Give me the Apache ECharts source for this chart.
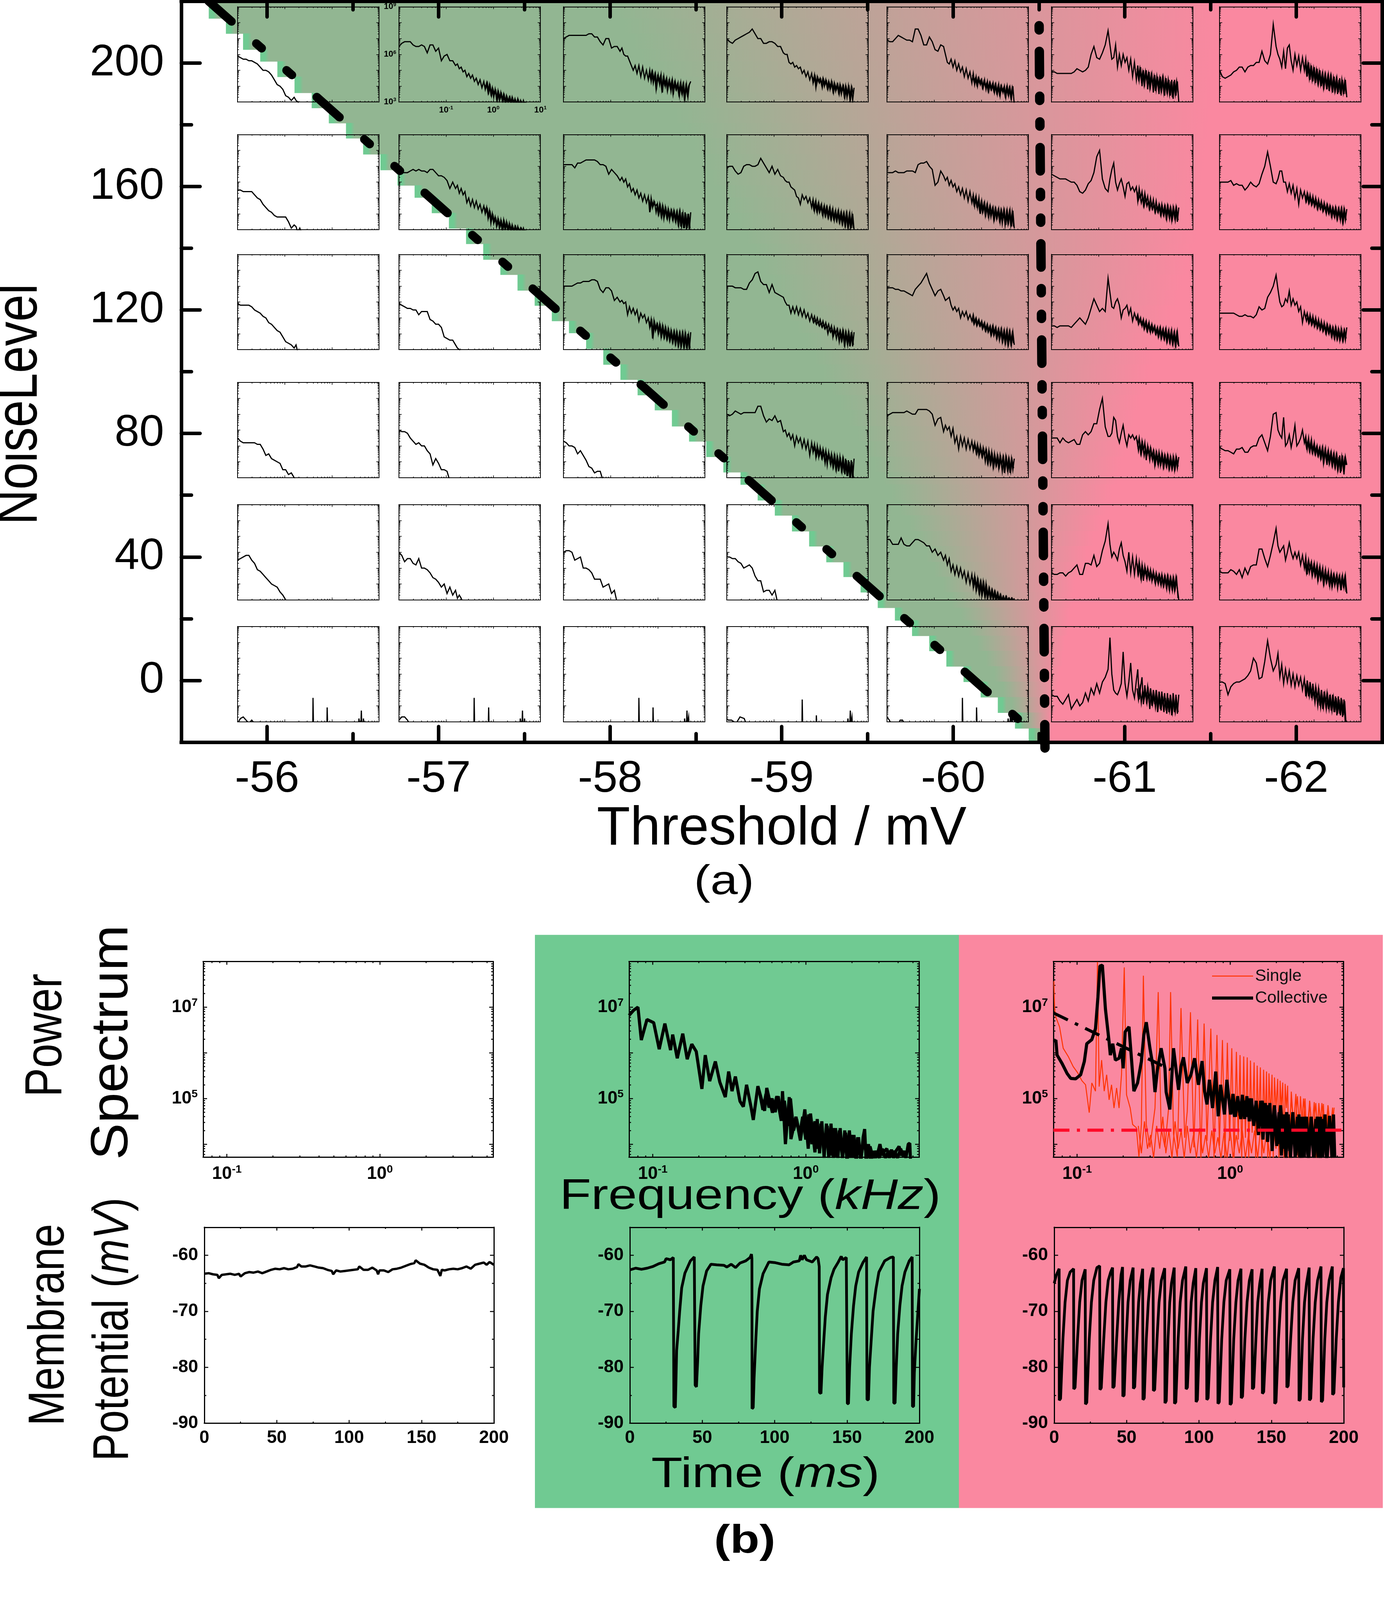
<!DOCTYPE html>
<html>
<head>
<meta charset="utf-8">
<style>html,body{margin:0;padding:0;background:#fff;overflow:hidden}#main{width:3542px;height:4924px}</style>
<script src="https://cdn.jsdelivr.net/npm/echarts@6/dist/echarts.min.js"></script>
</head>
<body>
<div id="main"></div>
<script>
// panel (a) background, one strip per staircase row
var stairBottom = [214.5,209.6,204.4,200.6,195.6,190.4,185.5,180.6,175.7,170.5,165.4,160.4,156.5,151.5,146.5,141.5,136.4,131.5,126.4,121.5,116.5,112.6,107.5,102.4,97.5,92.5,87.6,82.4,77.5,72.5,67.5,63.5,58.4,53.5,48.4,43.5,38.4,33.6,28.6,23.6,19.5,14.5,9.6,4.6,-0.4,-5.4,-10.4,-15.5,-20];
var stairStart = [-55.66,-55.76,-55.86,-55.96,-56.06,-56.16,-56.26,-56.36,-56.46,-56.56,-56.66,-56.76,-56.86,-56.96,-57.06,-57.16,-57.26,-57.36,-57.46,-57.56,-57.66,-57.76,-57.86,-57.96,-58.06,-58.16,-58.26,-58.36,-58.46,-58.56,-58.66,-58.76,-58.86,-58.96,-59.06,-59.16,-59.26,-59.36,-59.46,-59.56,-59.66,-59.76,-59.86,-59.96,-60.06,-60.16,-60.26,-60.36,-60.44];
var mixStart = [-58.03,-58.08,-58.13,-58.18,-58.23,-58.28,-58.33,-58.38,-58.43,-58.49,-58.54,-58.59,-58.64,-58.69,-58.74,-58.79,-58.84,-58.89,-58.94,-58.99,-59.04,-59.09,-59.14,-59.19,-59.24,-59.29,-59.34,-59.39,-59.44,-59.49,-59.54,-59.59,-59.64,-59.69,-59.74,-59.79,-59.84,-59.89,-59.94,-59.99,-60.04,-60.09,-60.14,-60.19,-60.24,-60.29,-60.34,-60.40,-60.46];
var pinkEnd = [-61.57,-61.56,-61.55,-61.54,-61.53,-61.52,-61.51,-61.50,-61.49,-61.48,-61.47,-61.46,-61.45,-61.44,-61.43,-61.42,-61.40,-61.37,-61.34,-61.31,-61.27,-61.24,-61.21,-61.17,-61.14,-61.12,-61.09,-61.06,-61.04,-61.01,-60.98,-60.96,-60.93,-60.89,-60.86,-60.82,-60.78,-60.75,-60.71,-60.70,-60.68,-60.67,-60.65,-60.64,-60.62,-60.61,-60.60,-60.58,-60.57];

// boundary lines of panel (a)
var diagX = [-55.66,-60.53], diagY = [220,-20];
var vertX = [-60.535,-60.5], vertY = [-21.9,218];

// ticks of panel (a)
var thresholdTicks = [-56,-57,-58,-59,-60,-61,-62];
var thresholdMinor = [-55.5,-56.5,-57.5,-58.5,-59.5,-60.5,-61.5,-62.5];
var noiseTicks = [0,40,80,120,160,200];
var noiseMinor = [-20,20,60,100,140,180,220];

// inset spectra: log10 frequency shared by the insets, log10 power x 10 per inset (row, column)
var insetF = [-2,-1.94,-1.88,-1.82,-1.76,-1.7,-1.64,-1.58,-1.52,-1.46,-1.4,-1.34,-1.28,-1.22,-1.16,-1.1,-1.04,-0.98,-0.92,-0.86,-0.8,-0.76,-0.72,-0.68,-0.64,-0.6,-0.56,-0.52,-0.48,-0.44,-0.4,-0.36,-0.32,-0.28,-0.24,-0.2,-0.17,-0.14,-0.11,-0.08,-0.05,-0.02,0.01,0.04,0.07,0.1,0.13,0.16,0.19,0.22,0.25,0.28,0.31,0.34,0.37,0.4,0.43,0.46,0.49,0.52,0.55,0.58,0.61,0.64,0.67,0.7];
var r0c0 = [59,58,57,57,56,56,55,54,52,50,50,49,47,44,41,40,38,34,33,31,33,31,30,28];
var r0c1 = [65,67,68,68,68,66,65,65,66,65,61,66,66,62,64,56,59,60,56,56,53,54,51,52,49,50,46,48,45,47,43,45,41,44,39,43,38,42,36,41,35,39,33,38,32,37,31,36,31,35,30,34,30,33,29,33,29,32,28,32,28,31,28,31,28,30];
var r0c2 = [70,71,72,72,72,72,72,72,72,73,73,71,71,68,66,70,70,64,65,65,62,64,60,59,59,56,53,50,53,48,53,46,52,45,50,44,50,43,49,44,48,40,47,41,47,36,46,40,45,39,44,37,44,37,43,38,42,34,42,35,41,33,41,33,41,43];
var r0c3 = [70,68,67,69,70,71,72,73,74,76,73,70,70,67,67,68,68,67,65,65,61,60,60,55,54,55,52,53,51,52,48,50,46,49,44,48,42,47,39,46,43,45,41,45,40,44,39,43,38,43,37,42,37,41,36,41,35,40,34,40,33,40,32,39,31,39];
var r0c4 = [69,68,68,70,72,71,70,69,69,68,76,76,72,66,66,71,68,63,62,66,65,60,55,54,57,52,56,50,54,49,52,46,51,45,49,42,48,41,46,40,45,41,44,39,44,38,43,37,42,38,42,36,41,35,41,34,40,36,40,33,40,34,39,32,40,28];
var r0c5 = [49,49,48,48,48,48,48,48,49,51,50,49,50,52,60,65,58,57,61,66,75,66,57,58,66,52,60,53,60,55,58,50,57,46,55,44,53,44,52,40,50,42,50,38,49,40,47,36,47,38,46,35,46,38,45,34,45,36,44,34,44,32,44,34,43,30];
var r0c6 = [50,46,45,46,47,49,50,52,52,49,52,53,53,55,55,62,56,54,60,79,65,60,57,52,62,51,64,66,56,50,60,53,59,50,58,50,57,46,55,44,53,43,52,42,51,42,50,40,48,40,47,38,47,39,46,36,46,38,45,36,45,34,44,35,44,33];
var r1c0 = [55,55,54,54,54,54,52,50,49,46,44,42,41,39,38,38,38,38,35,31,33,32,28,31,28];
var r1c1 = [66,66,66,66,67,68,67,68,67,67,66,68,68,66,64,64,63,61,56,60,56,58,53,56,52,54,47,50,45,49,44,48,43,46,41,45,40,44,37,42,34,40,34,38,32,37,31,36,29,36,30,35,29,34,29,33,28,32,28,32,28,31,28,31,28,30];
var r1c2 = [71,71,71,71,69,72,72,73,74,74,74,74,73,71,71,70,65,68,66,64,61,63,60,62,57,59,54,56,52,55,50,53,48,52,47,51,41,50,44,48,45,46,40,46,39,45,37,44,38,43,36,42,37,42,36,41,34,41,32,41,31,41,30,40,30,41];
var r1c3 = [69,70,70,67,65,66,70,71,71,70,70,71,75,72,69,66,70,65,68,64,63,61,60,60,57,56,55,51,50,46,52,49,51,47,50,44,49,42,48,41,47,42,46,39,45,39,44,38,44,37,43,36,42,36,42,35,41,34,40,33,40,32,40,31,40,30];
var r1c4 = [66,66,66,67,66,66,66,67,67,67,66,71,72,72,73,70,68,58,60,67,64,61,63,58,61,57,59,54,57,52,56,50,55,48,54,47,52,45,51,44,50,40,48,42,47,40,46,38,45,40,44,37,43,38,43,35,42,37,42,33,42,35,42,32,42,31];
var r1c5 = [65,64,63,62,62,62,61,60,60,58,54,53,55,59,61,66,76,80,62,56,54,62,68,72,60,55,59,62,57,51,59,60,55,57,54,57,48,56,50,54,46,53,47,51,44,50,44,49,42,48,42,46,40,46,40,45,38,45,39,44,36,44,38,44,35,44];
var r1c6 = [60,60,60,60,61,58,59,58,58,55,57,60,58,57,59,65,70,79,70,60,59,62,67,67,60,60,54,59,53,58,50,56,46,55,50,54,48,53,47,52,46,51,45,50,44,49,44,48,42,47,42,46,41,45,39,44,39,44,37,43,38,43,35,43,36,43];
var r2c0 = [59,58,58,58,58,57,55,54,53,51,50,47,46,44,42,41,38,35,34,33,31,33,28];
var r2c1 = [59,58,57,56,56,55,55,52,54,54,54,49,48,46,46,44,38,37,36,36,33,31,30,28];
var r2c2 = [70,70,70,70,71,72,72,73,73,73,74,74,73,68,66,69,69,67,61,63,60,61,59,60,52,57,53,56,52,55,48,53,50,52,47,50,44,49,37,48,42,46,40,46,38,45,38,44,37,43,36,42,35,41,34,41,33,40,32,40,32,40,31,40,30,41];
var r2c3 = [70,70,70,69,69,69,68,68,72,74,78,79,73,71,71,66,71,66,65,64,63,60,58,58,53,57,53,57,52,56,51,55,50,53,48,52,48,51,47,50,46,49,45,48,44,47,43,46,42,45,38,44,40,43,38,42,36,42,34,41,35,41,32,41,32,41];
var r2c4 = [69,69,69,68,68,67,67,66,65,64,68,70,72,75,78,72,68,64,67,68,64,61,62,63,58,55,57,54,56,50,54,51,54,49,52,48,52,47,50,46,49,45,48,44,47,42,46,42,45,40,45,40,44,38,43,38,43,36,42,35,42,34,41,33,41,33];
var r2c5 = [45,45,44,45,45,45,45,44,46,48,50,48,46,50,56,62,58,54,56,54,75,66,57,56,60,62,58,50,55,56,58,52,56,48,53,49,52,47,50,45,49,44,48,42,47,41,46,42,45,40,44,39,44,38,43,37,43,36,42,35,42,34,41,33,41,32];
var r2c6 = [53,53,53,53,53,53,52,51,51,52,51,51,50,52,57,55,56,63,66,70,77,68,60,57,58,62,60,67,58,62,58,60,54,57,47,54,50,53,47,52,46,51,45,50,44,49,43,48,42,47,41,46,41,45,39,44,38,44,37,43,36,43,36,42,36,44];
var r3c0 = [55,53,52,52,52,52,52,51,51,48,44,45,42,41,40,39,35,35,32,33,30,28];
var r3c1 = [60,59,59,58,55,53,51,52,50,50,47,45,38,42,39,35,35,34,28];
var r3c2 = [53,52,50,50,49,45,47,44,41,37,36,33,34,34,28];
var r3c3 = [70,69,70,72,71,70,71,71,71,71,71,75,75,69,65,67,66,69,65,66,59,60,56,58,54,57,50,56,52,55,49,54,48,53,44,52,46,51,43,50,43,49,43,48,42,47,38,46,40,45,37,44,36,43,34,43,35,42,33,42,31,41,30,41,29,42];
var r3c4 = [69,70,71,71,71,71,71,72,71,70,70,73,73,73,73,72,70,63,67,68,59,63,60,62,56,61,52,56,48,56,50,55,48,54,48,53,47,52,46,51,44,50,44,49,44,48,40,47,39,46,37,45,38,44,36,44,38,43,33,43,36,42,33,42,35,42];
var r3c5 = [55,55,55,52,55,53,52,53,54,51,51,57,59,57,59,64,64,73,80,62,56,56,58,68,66,56,52,58,63,55,50,57,55,57,54,56,50,55,46,53,47,52,41,50,44,49,43,47,38,46,40,46,38,45,37,44,38,44,36,43,36,43,35,43,36,43];
var r3c6 = [49,48,47,47,46,45,48,48,49,46,46,49,50,50,55,57,52,47,56,70,71,60,57,55,68,50,52,57,49,55,63,50,52,55,60,52,56,48,55,47,54,46,52,45,50,44,49,43,49,41,48,38,47,40,46,38,45,37,44,36,44,34,44,32,43,38];
var r4c0 = [55,56,57,58,58,55,53,49,48,46,44,42,40,39,38,35,33,30,28];
var r4c1 = [60,58,54,56,56,53,52,56,50,50,49,47,44,43,41,38,40,34,38,33,36,31,33,31,28];
var r4c2 = [60,61,61,60,55,56,57,50,50,49,47,43,43,43,38,39,40,34,36,28];
var r4c3 = [57,57,56,56,54,53,50,51,52,50,45,42,42,35,36,36,33,36,28];
var r4c4 = [68,68,65,65,65,69,65,64,64,66,68,68,67,66,64,64,60,62,58,60,55,58,52,56,48,52,46,51,45,50,44,48,41,47,40,46,38,45,36,43,35,41,33,41,33,40,30,37,31,36,30,35,29,34,29,33,29,32,29,32,29,31,29,31,29,31];
var r4c5 = [47,46,46,47,47,45,47,48,50,52,46,46,53,53,52,58,51,53,61,67,78,65,57,60,58,55,62,66,58,54,48,60,47,57,46,56,47,54,45,52,42,51,45,50,44,49,42,48,42,47,42,46,41,46,39,45,39,45,38,44,38,44,36,44,37,30];
var r4c6 = [48,47,47,47,49,48,46,49,44,50,46,51,52,52,62,62,56,51,58,66,75,64,60,62,64,55,60,66,60,56,60,56,60,52,58,50,57,46,55,50,54,47,53,46,52,44,51,44,50,41,49,42,48,39,47,40,46,41,46,40,45,36,45,38,45,34];
// bottom row of insets: a few sharp lines, so each one has its own frequencies
var r5c0F = [-2,-1.94,-1.88,-1.82,-1.76,-1.7,-1.64,-0.405,-0.4,-0.39,-0.105,-0.1,-0.09,0.565,0.575,0.585,0.615,0.625,0.635,0.66,0.67,0.68];
var r5c0 = [29,32,33,31,29,31,29,28,45,28,28,39,28,28,32,28,28,37,28,28,32,28];
var r5c1F = [-2,-1.94,-1.88,-1.82,-1.76,-0.41,-0.405,-0.395,-0.105,-0.097,-0.09,0.565,0.574,0.585,0.61,0.62,0.63,0.655,0.664,0.675];
var r5c1 = [31,33,33,31,28,28,45,28,28,39,28,28,32,28,28,37,28,28,32,28];
var r5c2F = [-0.405,-0.4,-0.39,-0.105,-0.1,-0.09,0.56,0.57,0.58,0.61,0.62,0.63,0.645,0.655,0.665];
var r5c2 = [28,45,28,28,39,28,28,32,28,28,37,28,28,33,28];
var r5c3F = [-2,-1.97,-1.9,-1.8,-1.72,-1.63,-1.58,-0.405,-0.4,-0.39,-0.105,-0.1,-0.09,0.56,0.57,0.58,0.61,0.62,0.63,0.645,0.655,0.665];
var r5c3 = [32,31,31,29,33,32,28,28,44,28,28,34,28,28,32,28,28,37,28,28,33,28];
var r5c4F = [-2,-1.95,-1.9,-1.77,-1.72,-1.67,-1.62,-0.405,-0.4,-0.39,-0.105,-0.1,-0.09,0.56,0.57,0.58,0.61,0.62,0.63,0.645,0.655,0.665];
var r5c4 = [33,31,28,28,31,31,28,28,45,28,28,39,28,28,32,28,28,37,28,28,33,28];
var r5c5 = [47,46,46,43,41,44,47,38,41,44,40,42,48,43,51,47,54,48,55,58,63,83,60,50,48,47,50,54,74,54,46,55,67,50,45,56,63,44,52,58,41,53,44,52,43,51,40,50,41,50,36,49,38,49,40,48,37,48,36,47,34,48,36,47,35,47];
var r5c6 = [55,55,54,47,52,54,55,55,56,57,59,62,70,67,57,58,68,81,70,62,66,73,58,66,54,63,55,62,53,60,52,59,53,58,50,57,46,56,46,55,45,54,44,52,44,51,40,50,38,49,41,48,38,47,37,47,36,46,34,46,35,45,33,44,28,28];

// the noisy upper end of each spectrum is read again between the samples above
var fineF = [-0.185,-0.155,-0.125,-0.095,-0.065,-0.035,-0.005,0.025,0.055,0.085,0.115,0.145,0.175,0.205,0.235,0.265,0.295,0.325,0.355,0.385,0.415,0.445,0.475,0.505,0.535,0.565,0.595,0.625,0.655,0.685];
var f0c1 = [41,39,42,36,40,34,38,35,37,31,36,32,35,30,34,29,33,30,33,28,32,29,31,28,31,28,30,28,30,29];
var f0c2 = [48,45,49,42,47,38,46,43,46,38,45,41,44,37,43,39,43,35,42,38,41,35,41,36,41,32,40,35,40,42];
var f0c3 = [46,43,46,41,45,42,44,39,44,41,43,38,42,39,42,36,41,38,41,35,40,37,40,33,39,35,39,32,39,35];
var f0c4 = [47,43,45,41,45,42,44,39,43,40,42,37,42,38,41,37,41,36,40,35,40,37,39,34,39,35,39,33,39,34];
var f0c5 = [51,45,51,44,49,41,49,43,48,39,47,41,46,37,46,39,45,37,45,36,44,37,44,35,43,33,43,35,43,36];
var f0c6 = [55,48,54,45,52,44,51,43,50,42,49,41,47,39,47,40,46,37,46,38,45,37,44,35,44,35,44,36,43,35];
var f1c1 = [44,41,43,38,41,36,39,35,37,33,36,32,35,30,35,31,34,30,33,29,32,29,32,29,31,29,31,29,30,29];
var f1c2 = [49,43,48,45,47,41,46,40,45,38,44,39,43,37,42,38,42,36,41,35,41,33,41,32,40,31,40,31,40,31];
var f1c3 = [48,43,47,42,46,41,45,40,44,39,44,38,43,37,42,37,41,36,41,35,40,34,40,33,40,32,39,31,39,31];
var f1c4 = [51,46,50,45,48,42,47,41,46,39,45,39,44,38,43,36,43,37,42,36,42,34,42,33,41,34,41,33,41,32];
var f1c5 = [54,49,52,47,51,45,50,45,48,43,47,43,46,41,45,41,45,39,44,39,44,37,44,37,43,37,43,36,43,36];
var f1c6 = [52,48,52,47,50,46,49,45,48,43,47,43,46,42,45,40,45,40,44,38,43,38,43,37,43,36,43,35,42,36];
var f2c2 = [48,45,48,39,47,43,46,41,45,39,44,38,43,37,42,36,41,35,41,34,40,33,40,33,40,32,39,31,39,31];
var f2c3 = [50,47,49,46,48,45,47,44,46,43,45,40,44,41,43,39,42,37,42,35,41,36,41,33,40,33,40,34,40,33];
var f2c4 = [50,46,49,45,48,45,47,43,46,42,45,41,44,39,44,39,43,37,42,36,42,35,41,34,41,33,41,34,40,34];
var f2c5 = [51,46,49,46,48,43,47,42,46,42,45,41,44,40,43,38,43,37,42,37,42,35,41,35,41,34,40,33,40,33];
var f2c6 = [52,48,51,47,50,46,49,45,48,44,47,43,46,42,45,40,45,40,44,38,43,37,43,37,42,37,42,36,42,37];
var f3c3 = [50,47,49,44,48,44,47,42,46,39,45,41,44,38,43,37,43,35,42,36,41,34,41,32,41,31,40,30,40,30];
var f3c4 = [51,48,50,45,49,45,48,43,47,40,46,39,45,39,44,37,43,38,43,37,42,34,42,35,42,34,41,34,41,36];
var f3c5 = [54,47,52,45,51,44,49,44,48,41,47,41,46,39,45,38,44,39,44,37,43,37,43,36,42,36,42,36,42,37];
var f3c6 = [54,49,53,47,52,46,50,45,49,44,48,42,48,39,47,41,46,39,45,38,44,37,44,35,43,33,43,36,42,38];
var f4c4 = [44,39,43,37,42,34,41,34,40,32,38,32,37,31,36,31,35,30,34,29,33,29,32,29,32,29,31,29,31,29];
var f4c5 = [53,46,51,43,50,45,49,43,48,43,47,43,46,40,45,40,45,39,44,39,44,37,44,36,43,36,43,37,43,31];
var f4c6 = [53,47,53,47,52,45,51,45,50,42,49,43,48,40,47,41,46,40,45,38,45,39,44,37,44,38,44,39,44,35];
var f5c5 = [51,44,51,42,50,44,49,42,49,38,48,41,47,39,47,39,46,37,46,36,45,35,45,37,44,36,44,36,43,36];
var f5c6 = [54,47,53,46,52,45,50,42,49,40,48,39,47,39,47,38,46,38,45,37,45,36,45,35,44,34,44,34,43,28];

var insetCurves = [
  [r0c0,r0c1,r0c2,r0c3,r0c4,r0c5,r0c6],
  [r1c0,r1c1,r1c2,r1c3,r1c4,r1c5,r1c6],
  [r2c0,r2c1,r2c2,r2c3,r2c4,r2c5,r2c6],
  [r3c0,r3c1,r3c2,r3c3,r3c4,r3c5,r3c6],
  [r4c0,r4c1,r4c2,r4c3,r4c4,r4c5,r4c6],
  [r5c0,r5c1,r5c2,r5c3,r5c4,r5c5,r5c6]
];
var insetFine = [
  [null,f0c1,f0c2,f0c3,f0c4,f0c5,f0c6],
  [null,f1c1,f1c2,f1c3,f1c4,f1c5,f1c6],
  [null,null,f2c2,f2c3,f2c4,f2c5,f2c6],
  [null,null,null,f3c3,f3c4,f3c5,f3c6],
  [null,null,null,null,f4c4,f4c5,f4c6],
  [null,null,null,null,null,f5c5,f5c6]
];
var bottomRowF = [r5c0F,r5c1F,r5c2F,r5c3F,r5c4F,insetF,insetF];

// panel (b), green spectrum (log10 f, log10 P)
var greenF = [-1.155,-1.126,-1.097,-1.075,-1.038,-0.994,-0.958,-0.921,-0.884,-0.87,-0.84,-0.804,-0.775,-0.745,-0.716,-0.679,-0.657,-0.628,-0.591,-0.562,-0.526,-0.504,-0.482,-0.46,-0.43,-0.408,-0.387,-0.357,-0.343,-0.313,-0.269,-0.255,-0.218,-0.189,-0.16,-0.152,-0.133,-0.108,-0.097,-0.064,-0.035,-0.006,0.016,0.031,0.06,0.075,0.09,0.105,0.12,0.135,0.15,0.165,0.18,0.195,0.21,0.225,0.24,0.255,0.27,0.285,0.3,0.315,0.33,0.345,0.36,0.375,0.385,0.395,0.41,0.425,0.44,0.455,0.47,0.485,0.5,0.515,0.53,0.545,0.56,0.575,0.59,0.61,0.625,0.64,0.655,0.67,0.68,0.685];
var greenP = [6.82,6.93,7,6.28,6.73,6.66,6.08,6.64,6.06,6.4,5.88,6.42,5.86,6.19,6.03,5.21,5.95,5.38,5.81,5.36,5.03,5.59,5.16,5.48,4.94,4.82,5.3,4.8,4.53,5.27,4.73,5.23,4.69,5.05,4.51,5.16,4,5.03,4.11,4.6,4.08,4.76,3.9,4.67,3.82,4.55,3.8,4.5,3.7,4.45,3.7,4.45,3.7,4.35,3.7,4.35,3.7,4.3,3.6,4.3,3.7,4.2,3.6,4.15,3.6,4.15,4.33,3.6,4,3.6,3.85,3.7,3.8,4,3.75,3.85,3.9,3.7,3.88,3.7,3.85,3.95,3.75,3.85,3.7,4,4.02,3.6];
var greenFineF = [-0.3,-0.28,-0.26,-0.24,-0.22,-0.2,-0.18,-0.16,-0.14,-0.12,-0.1,-0.08,-0.06,-0.04,-0.02,0,0.02,0.04,0.06,0.08,0.1,0.12,0.14,0.16,0.18,0.2,0.22,0.24,0.26,0.28,0.3,0.32,0.34,0.36,0.38,0.4,0.42,0.44,0.46,0.48,0.5,0.52,0.54,0.56,0.58,0.6,0.62,0.64,0.66];
var greenFineP = [5.1,4.75,5.1,4.8,5,4.7,5.05,4.6,4.95,4.4,5,4.3,4.55,4.2,4.6,4.1,4.65,4,4.5,3.9,4.45,3.8,4.4,3.75,4.35,3.72,4.3,3.7,4.25,3.7,4.2,3.7,4.15,3.7,4.1,3.7,3.95,3.7,3.85,3.7,3.9,3.7,3.85,3.72,3.85,3.7,3.9,3.72,3.85];

// panel (b), pink spectra
var singleF = [-1.152,-1.147,-1.139,-1.115,-1.091,-1.058,-1.026,-0.994,-0.969,-0.945,-0.921,-0.904,-0.88,-0.867,-0.856,-0.84,-0.823,-0.807,-0.791,-0.775,-0.759,-0.742,-0.726,-0.71,-0.692,-0.677,-0.653,-0.637,-0.613,-0.596,-0.58,-0.567,-0.548,-0.524,-0.491,-0.47,-0.451,-0.426,-0.402,-0.389,-0.37,-0.345,-0.321,-0.297,-0.28,-0.259,-0.237,-0.212,-0.191,-0.17,-0.151,-0.126,-0.105,-0.086,-0.07,-0.05,-0.034,-0.018,-0.003,0.011,0.026,0.041,0.053,0.065,0.076,0.089,0.1,0.112,0.122,0.133,0.144,0.157,0.167,0.177,0.186,0.198,0.207,0.219,0.229,0.238,0.246,0.254,0.264,0.274,0.282,0.29,0.3,0.311,0.319,0.327,0.335,0.344,0.352,0.36,0.368,0.376,0.384,0.4,0.415,0.43,0.445,0.46,0.475,0.49,0.505,0.52,0.535,0.55,0.565,0.58,0.595,0.61,0.625,0.64,0.655,0.67,0.684];
var singleP = [7.57,6.96,6.78,6.57,6.1,5.92,5.7,5.55,5.39,5.3,4.69,5.34,5.16,7.99,5.26,5.84,5.16,5.52,4.97,5.3,4.79,5.23,4.79,5.52,7.87,5.08,4.79,4.43,4.36,3.72,4.43,7.69,4.43,3.93,4.79,7.33,4.36,3.93,4.79,7.33,4.22,3.72,6.98,4.14,4.72,6.89,3.93,6.73,3.7,6.64,4.07,6.53,3.7,6.39,3.96,6.28,3.7,6.22,4.07,6.1,3.7,6.02,4.1,5.95,3.7,5.92,4.14,5.9,3.7,5.83,4.25,5.79,3.7,5.72,4.43,5.68,3.7,5.63,4.43,5.59,3.7,5.55,4.61,5.52,3.7,5.46,4.79,5.43,3.7,5.39,4.79,5.35,3.7,5.32,4.79,5.28,3.7,5.15,4.4,5.1,3.7,5.05,4.3,5,3.7,4.95,4.3,4.92,3.7,4.9,4.3,4.88,3.7,4.85,4.3,4.8,3.7];
var singleFineF = [-0.6,-0.58,-0.56,-0.54,-0.52,-0.5,-0.48,-0.46,-0.44,-0.42,-0.4,-0.38,-0.36,-0.34,-0.32,-0.3,-0.28,-0.26,-0.24,-0.22,-0.2,-0.18,-0.16,-0.14,-0.12,-0.1,-0.08,-0.06,-0.04,-0.02,0,0.02,0.04,0.06,0.08,0.1,0.12,0.14,0.16,0.18,0.2,0.22,0.24,0.26,0.28,0.3,0.32,0.34,0.36,0.38,0.4,0.42,0.44,0.46,0.48,0.5,0.52,0.54,0.56,0.58,0.6,0.62,0.64,0.66,0.68];
var singleFineP = [4.4,3.8,4.5,3.9,4.2,3.7,4.4,3.9,4.6,3.8,4.3,3.7,4.5,3.9,4.3,3.7,4.4,3.8,4.2,3.7,4.35,3.8,4.2,3.7,4.3,3.8,4.15,3.7,4.25,3.7,4.3,3.7,4.2,3.8,4.3,3.7,4.2,3.8,4.3,3.7,4.35,3.8,4.3,3.7,4.4,3.9,4.5,3.8,4.7,3.9,5,4.2,5.05,4,5,4.1,4.95,4.1,4.9,4,4.9,4.1,4.85,4,4.8];
var collectiveF = [-1.152,-1.139,-1.131,-1.099,-1.066,-1.042,-1.01,-0.977,-0.953,-0.937,-0.904,-0.88,-0.864,-0.851,-0.835,-0.815,-0.791,-0.783,-0.767,-0.75,-0.726,-0.71,-0.699,-0.686,-0.661,-0.645,-0.629,-0.605,-0.58,-0.564,-0.548,-0.524,-0.504,-0.491,-0.475,-0.451,-0.426,-0.418,-0.394,-0.37,-0.353,-0.337,-0.321,-0.305,-0.28,-0.256,-0.232,-0.207,-0.183,-0.167,-0.151,-0.135,-0.115,-0.094,-0.078,-0.062,-0.037,-0.021,0.003,0.019,0.035,0.05,0.065,0.08,0.095,0.11,0.125,0.14,0.155,0.17,0.185,0.2,0.215,0.23,0.245,0.26,0.275,0.29,0.305,0.32,0.335,0.35,0.365,0.38,0.395,0.41,0.425,0.44,0.455,0.47,0.485,0.5,0.515,0.53,0.545,0.56,0.575,0.59,0.605,0.62,0.635,0.65,0.665,0.676,0.684];
var collectiveP = [6.24,6.28,5.95,5.77,5.55,5.44,5.43,5.52,5.81,6.2,6.29,6.53,7.22,7.9,7.92,6.96,6.24,5.95,6.2,5.84,5.88,6.1,5.66,6.46,6.57,5.88,5.16,5.34,5.81,6.39,6.67,6.1,5.7,5.14,5.63,6.1,5.66,5.14,4.76,6.1,5.63,5.19,5.7,5.9,5.34,5.52,5.88,5.3,5.82,5.16,4.87,5.41,4.79,5.59,4.61,5.3,4.65,5.41,4.65,5.1,4.6,5.05,4.62,5.08,4.55,5.05,4.5,5,4.4,4.95,4.2,4.95,4.1,4.9,4.05,4.9,3.85,4.8,3.96,4.7,3.75,4.65,3.7,4.65,3.7,4.65,3.72,4.6,3.7,4.6,3.72,4.6,3.7,4.58,3.72,4.55,3.7,4.6,3.72,4.65,3.7,4.62,3.72,4.65,3.7];
var collectiveFineF = [0.01,0.03,0.05,0.07,0.09,0.11,0.13,0.15,0.17,0.19,0.21,0.23,0.25,0.27,0.29,0.31,0.33,0.35,0.37,0.39,0.41,0.43,0.45,0.47,0.49,0.51,0.53,0.55,0.57,0.59,0.61,0.63,0.65,0.67];
var collectiveFineP = [4.9,4.6,4.95,4.55,4.95,4.6,5,4.5,4.9,4.4,4.95,4.3,4.85,4.2,4.85,4,4.85,3.9,4.7,3.85,4.7,3.75,4.65,3.7,4.6,3.7,4.6,3.7,4.6,3.7,4.55,3.7,4.55,3.7];
var fitF = [-1.153,-0.389], fitP = [6.87,5.63];
var levelF = [-1.155,0.74], levelP = [4.305,4.305];

// panel (b), membrane potential traces
var quietT = [0,3,6,9,10,12,15,18,21,24,25,28,31,34,37,40,43,46,49,52,55,58,61,64,65,67,70,73,76,79,82,85,88,89,91,94,97,100,103,106,107,110,113,116,119,120,121,124,127,130,133,136,139,142,145,146,149,152,155,158,161,163,164,166,169,172,175,178,181,184,187,190,193,195,197,200];
var quietV = [-63.3,-63.2,-63.4,-63.5,-64.1,-63.5,-63.4,-63.3,-63.5,-63.3,-63.8,-63.2,-63,-63.1,-62.9,-63.2,-62.9,-62.6,-62.4,-62.5,-62.3,-62.5,-62.4,-62.1,-61.6,-62,-62,-61.8,-62,-62.2,-62.3,-62.6,-62.8,-63.4,-62.7,-62.9,-62.8,-62.7,-62.6,-62.5,-62,-62.6,-62.6,-62.2,-62.7,-63.4,-62.7,-62.7,-63,-62.5,-62.4,-62.2,-61.9,-61.6,-61.4,-60.9,-61.5,-61.7,-62.2,-62.5,-62.6,-63.7,-62.6,-62.7,-62.5,-62.4,-62.5,-62.3,-62,-62.4,-61.7,-61.5,-61.3,-61.7,-61.2,-61.7];
var burstT = [0,4,8,12,16,20,24,25,28,30,30.2,30.4,31.4,31.8,32.3,33.4,34.4,35.8,38,41.8,44.5,45,45.1,46,46.8,47.5,49,50.5,53,56,60,65,67,70,73,76,80,83,84,84.3,84.4,85.2,85.8,87,88,89.5,92,96,100,105,110,113,117,118,119,120.5,122,126,129,130,130.8,131,132,132.8,134,135,136.5,139,141,144,146,147,149.5,150,150.2,151,151.8,153,154.5,156,158,161,163.5,163.8,164.8,165.5,167,168,170,172,176,180,182,182.3,183.2,184,185,186.5,188,190,193,195,195.2,196,196.5,197.5,198.5,200];
var burstV = [-62.6,-62.3,-62.5,-62.3,-62,-61.5,-61.2,-60.6,-60.8,-60.4,-60.3,-87,-87.2,-83,-77,-73.5,-70,-65.8,-63.2,-61,-60.3,-60.3,-83.2,-83.5,-79,-74,-69,-65.5,-62.8,-61.6,-61.7,-61.8,-62.1,-61.6,-62.2,-61.4,-61,-60.4,-59.8,-60.6,-87.4,-87.2,-82,-75,-70,-66,-63.3,-61.2,-61.3,-61.6,-61.7,-61.2,-61,-60,-60.8,-60,-60.8,-61.2,-60.3,-60.6,-62,-84.5,-84.7,-80,-75,-71,-67,-64,-62.5,-61.2,-60.2,-60.8,-60.4,-60.4,-86.5,-86.5,-80,-74,-69,-65.5,-63,-61.3,-60.3,-85.8,-85.8,-80,-74,-70,-66,-63,-61,-60.4,-60.3,-86.4,-86.4,-80,-74,-69,-65.5,-63,-61,-60.3,-87,-87,-81,-76,-72,-66];
var regularT = [0,1.5,3.4,3.5,4.4,6,7.5,9.1,11,13.4,13.5,14.4,16.1,17.6,19.2,21.4,21.6,22.5,24.2,25.7,27.3,29.5,31.4,31.6,32.5,34.2,35.7,37.3,39,40.3,40.5,41.4,43.1,44.6,46.2,47.2,47.4,48.3,49.5,51,52.5,54.5,54.7,55.6,57,58.3,59.5,61.1,61.3,62.2,63.6,65,66.3,68.3,68.5,69.4,71,72.4,74,76.3,76.5,77.4,78.6,79.8,81,82.9,83.1,84,85.6,87,88.6,90.9,91.1,92,93.4,94.6,96,97.8,98,98.9,100.3,101.7,103,105.2,105.4,106.3,108,109.4,111,112.9,113.1,114,115.7,117.2,118.8,121.3,121.5,122.4,124,125.5,127,129,129.2,130.1,131.7,133.2,134.8,136.7,136.9,137.8,139.3,140.6,142,143.6,143.8,144.7,146.4,147.9,149.5,152.1,152.3,153.2,154.9,156.4,158,160.5,160.7,161.6,163.3,164.8,166.4,168.9,169.1,170,171.5,172.9,174.3,176.1,176.3,177.2,178.8,180.3,181.9,184.3,184.5,185.4,186.9,188.3,189.9,192.1,192.3,193.2,194.8,196.3,198,199.8,199.95];
var regularV = [-65,-63.5,-62.4,-85.9,-85.6,-75,-68.4,-64.5,-63,-62.4,-83.9,-83.6,-75,-68.4,-64.5,-62.5,-86.6,-86.3,-75,-68.4,-64.5,-62.2,-61.9,-84,-83.7,-75,-68.4,-64.5,-63,-62.2,-83.7,-83.4,-75,-68.4,-63.5,-62.1,-85.2,-85,-76,-68.4,-64.5,-62.2,-83.8,-83.5,-75,-68.4,-65,-62.4,-85.8,-85.5,-75,-68.4,-64.5,-62.2,-84.2,-84,-75,-68.4,-64.5,-62.3,-86.4,-86,-75,-68.4,-65,-62.2,-86.5,-86.2,-75,-68.4,-64.5,-62,-83.9,-83.6,-75,-68.4,-65,-62.3,-86.2,-85.8,-75,-68.4,-65,-62.3,-85.8,-85.5,-75,-68.4,-64.5,-62.1,-86.5,-86.2,-75,-68.4,-64.5,-62.5,-86.7,-86.4,-75,-68.4,-64.5,-62.4,-85.5,-85.2,-75,-68.4,-64.5,-62.5,-83.9,-83.6,-75,-68.4,-65,-62.4,-84.7,-84.4,-75,-68.4,-64.5,-62,-86.5,-86.2,-75,-68.4,-64.5,-62.4,-83.6,-83.3,-75,-68.4,-64.5,-62.3,-86,-85.7,-75,-68.4,-65,-62.2,-85.9,-85.6,-75,-68.4,-64.5,-62,-86.2,-85.9,-75,-68.4,-64.5,-62,-84.9,-84.6,-75,-68.4,-64,-62.3,-83.6];

// ticks of the panel (b) plots
var timeTicks = [0,50,100,150,200], timeMinor = [25,75,125,175];
var voltTicks = [-60,-70,-80,-90], voltMinor = [-55,-65,-75,-85];
var FONT = 'Liberation Sans';
var GREEN = '#70CA92', SAGE = '#92B692', PINK = '#FA88A0';

// the layout is proportional: the screen can be shorter than the 3542x4924 figure
var W = window.innerWidth || 3542, H = window.innerHeight || 4924;
var sx = W / 3542, sy = H / 4924, sf = Math.sqrt(sx * sy);
var mainEl = document.getElementById('main');
mainEl.style.width = W + 'px';
mainEl.style.height = H + 'px';

var grids = [], xAxes = [], yAxes = [], series = [];

function logMinors(lo, hi, min, max) {
  var out = [];
  for (var e = lo; e <= hi; e++) {
    for (var m = 2; m <= 9; m++) {
      var v = m * Math.pow(10, e);
      if (v >= min && v <= max) out.push(v);
    }
  }
  return out;
}
function powLabel(v) { return '{b|10}{s|' + Math.round(Math.log10(v)) + '}'; }
function powRich(size) {
  return { b: {fontSize: size * sf, fontWeight: 'bold', fontFamily: FONT, color: '#000'},
           s: {fontSize: size * sf * 0.62, fontWeight: 'bold', fontFamily: FONT, color: '#000', padding: [0, 0, size * sf * 0.5, 0]} };
}
function scaled(arr, k) { return arr.map(function (v) { return v * k; }); }

// one axis of a frame; every frame gets major and minor ticks on all four sides
function frameAxis(dim, g, pos, c, ticks, len, line) {
  var isX = dim === 'x';
  return {
    type: c.type, gridIndex: g, position: pos,
    min: isX ? c.xMin : c.yMin, max: isX ? c.xMax : c.yMax,
    inverse: isX && !!c.inverse, z: 5, silent: true,
    axisLine: {show: line, onZero: false, lineStyle: {color: '#000', width: c.line, cap: 'square'}},
    axisTick: {show: true, inside: true, length: len * (isX ? sy : sx), customValues: ticks,
      lineStyle: {color: '#000', width: c.tickW, cap: c.cap || 'butt'}},
    axisLabel: {show: false}, splitLine: {show: false}
  };
}
function addFrame(rect, c) {
  var g = grids.length;
  grids.push({left: rect[0] * sx, top: rect[1] * sy, width: rect[2] * sx, height: rect[3] * sy, outerBoundsMode: 'none', containLabel: false});
  var xi = xAxes.length, yi = yAxes.length;
  var xb = frameAxis('x', g, 'bottom', c, c.xMajor, c.maj, true);
  var yl = frameAxis('y', g, 'left', c, c.yMajor, c.maj, true);
  if (c.xLabel) xb.axisLabel = c.xLabel;
  if (c.yLabel) yl.axisLabel = c.yLabel;
  if (c.xName) {
    xb.name = c.xName.text; xb.nameLocation = 'middle'; xb.nameGap = c.xName.gap;
    xb.nameMoveOverlap = false; xb.nameTextStyle = c.xName.style;
  }
  xAxes.push(xb, frameAxis('x', g, 'bottom', c, c.xMinor, c.min, false),
             frameAxis('x', g, 'top', c, c.xMajor, c.maj, true), frameAxis('x', g, 'top', c, c.xMinor, c.min, false));
  yAxes.push(yl, frameAxis('y', g, 'left', c, c.yMinor, c.min, false),
             frameAxis('y', g, 'right', c, c.yMajor, c.maj, true), frameAxis('y', g, 'right', c, c.yMinor, c.min, false));
  return {x: xi, y: yi};
}
function lineSeries(ax, name, data, style, z) {
  return {type: 'line', name: name, xAxisIndex: ax.x, yAxisIndex: ax.y, data: data, showSymbol: false, symbol: 'none',
    silent: true, z: z || 6, lineStyle: style, itemStyle: {color: style.color}, emphasis: {disabled: true}, animation: false};
}
function logPairs(F, P, k) {
  var out = [];
  for (var i = 0; i < P.length && i < F.length; i++) out.push([Math.pow(10, F[i]), Math.pow(10, P[i] / k)]);
  return out;
}
function pairs(T, V) { return T.map(function (t, i) { return [t, V[i]]; }); }

// panel (a)
var mainAxes = addFrame([464, 4, 3073, 2280], {
  type: 'value', xMin: -62.5, xMax: -55.5, yMin: -20, yMax: 220, inverse: true,
  xMajor: thresholdTicks, xMinor: thresholdMinor, yMajor: noiseTicks, yMinor: noiseMinor,
  maj: 48, min: 26, line: 9, tickW: 9, cap: 'round',
  xLabel: {show: true, customValues: thresholdTicks, margin: 46 * sy, fontSize: 125 * sf, fontFamily: FONT, color: '#000'},
  yLabel: {show: true, customValues: noiseTicks, margin: 44 * sx, fontSize: 125 * sf, fontFamily: FONT, color: '#000'},
  xName: {text: 'Threshold / mV', gap: 269 * sy, style: {fontSize: 153 * sf, fontFamily: FONT, color: '#000', verticalAlign: 'middle'}}
});

series.push({
  type: 'custom', xAxisIndex: mainAxes.x, yAxisIndex: mainAxes.y, z: 1, silent: true, animation: false,
  data: stairStart.map(function (s, i) {
    return [s, i ? stairBottom[i - 1] : 220, stairBottom[i], mixStart[i], pinkEnd[i]];
  }),
  renderItem: function (params, api) {
    var a = api.coord([api.value(0), api.value(1)]);
    var b = api.coord([-62.5, api.value(2)]);
    var w = b[0] - a[0];
    var m = Math.max(api.coord([api.value(3), 0])[0] - a[0], 24);
    var p = Math.max(api.coord([api.value(4), 0])[0] - a[0], m + 1);
    return {type: 'rect', shape: {x: a[0], y: a[1], width: w, height: b[1] - a[1] + 1}, style: {
      fill: new echarts.graphic.LinearGradient(0, 0, 1, 0, [
        {offset: 0, color: GREEN}, {offset: 12 / w, color: GREEN}, {offset: 22 / w, color: SAGE},
        {offset: m / w, color: SAGE}, {offset: p / w, color: PINK}, {offset: 1, color: PINK}])
    }};
  }
});

var insetCols = [608, 1021, 1442, 1860, 2270, 2691, 3121];
var insetRows = [21, 414, 783, 1177, 1553, 1928];
insetCurves.forEach(function (row, r) {
  row.forEach(function (vals, c) {
    var cfg = {
      type: 'log', xMin: 0.01, xMax: 10, yMin: 1e3, yMax: 1e9,
      xMajor: [0.01, 0.1, 1, 10], xMinor: logMinors(-2, 0, 0.01, 10),
      yMajor: [1e3, 1e4, 1e5, 1e6, 1e7, 1e8, 1e9], yMinor: logMinors(3, 8, 1e3, 1e9),
      maj: 7, min: 3.5, line: 2, tickW: 1.5
    };
    if (r === 0 && c === 1) {
      cfg.xLabel = {show: true, customValues: [0.1, 1, 10], margin: 10 * sy, formatter: powLabel, rich: powRich(24)};
      cfg.yLabel = {show: true, customValues: [1e3, 1e6, 1e9], margin: 7 * sx, formatter: powLabel, rich: powRich(24)};
    }
    var ax = addFrame([insetCols[c], insetRows[r], 362, 293], cfg);
    var F = r === 5 ? bottomRowF[c] : insetF;
    series.push(lineSeries(ax, 'inset r' + r + ' c' + c, logPairs(F, vals, 10), {color: '#000', width: 3, join: 'miter'}));
    if (insetFine[r][c]) {
      series.push(lineSeries(ax, 'inset fine r' + r + ' c' + c, logPairs(fineF, insetFine[r][c], 10), {color: '#000', width: 3, join: 'miter'}));
    }
  });
});

series.push(lineSeries(mainAxes, 'boundary', pairs(diagX, diagY),
  {color: '#000', width: 24 * sf, cap: 'round', type: scaled([85, 93, 20, 93, 20, 93], Math.hypot(0.684 * sx, 0.73 * sy))}, 8));
series[series.length - 1].clip = false;
series.push(lineSeries(mainAxes, 'transition', pairs(vertX, vertY),
  {color: '#000', width: 24 * sx, cap: 'round', type: scaled([72, 66, 13, 66, 13, 66], sy)}, 8));
series[series.length - 1].clip = false;

// panel (b)
function specFrame(left) {
  return addFrame([left, 2959, 742, 602], {
    type: 'log', xMin: 0.07, xMax: 5.5, yMin: 5.2e3, yMax: 1e8,
    xMajor: [0.1, 1], xMinor: logMinors(-2, 0, 0.07, 5.5),
    yMajor: [1e4, 1e5, 1e6, 1e7, 1e8], yMinor: logMinors(3, 7, 5.2e3, 1e8),
    maj: 10, min: 5, line: 3, tickW: 2.5,
    xLabel: {show: true, customValues: [0.1, 1], margin: 22 * sy, formatter: powLabel, rich: powRich(50)},
    yLabel: {show: true, customValues: [1e5, 1e7], margin: 14 * sx, formatter: powLabel, rich: powRich(50)}
  });
}
function traceFrame(left) {
  return addFrame([left, 3777, 741, 603], {
    type: 'value', xMin: 0, xMax: 200, yMin: -90, yMax: -55,
    xMajor: timeTicks, xMinor: timeMinor, yMajor: voltTicks, yMinor: voltMinor,
    maj: 10, min: 5, line: 3, tickW: 2.5,
    xLabel: {show: true, customValues: timeTicks, margin: 18 * sy, fontSize: 50 * sf, fontWeight: 'bold', fontFamily: FONT, color: '#000'},
    yLabel: {show: true, customValues: voltTicks, margin: 16 * sx, fontSize: 50 * sf, fontWeight: 'bold', fontFamily: FONT, color: '#000'}
  });
}
specFrame(520);
var greenSpec = specFrame(1610);
var pinkSpec = specFrame(2696);
var quietTrace = traceFrame(523);
var burstTrace = traceFrame(1612);
var regularTrace = traceFrame(2698);

series.push(lineSeries(greenSpec, 'green spectrum', logPairs(greenF, greenP, 1), {color: '#000', width: 8}));
series.push(lineSeries(greenSpec, 'green spectrum fine', logPairs(greenFineF, greenFineP, 1), {color: '#000', width: 8}));
series.push(lineSeries(pinkSpec, 'Single', logPairs(singleF, singleP, 1), {color: '#FF3300', width: 2.5}));
series.push(lineSeries(pinkSpec, 'single fine', logPairs(singleFineF, singleFineP, 1), {color: '#FF3300', width: 2.5}));
series.push(lineSeries(pinkSpec, 'Collective', logPairs(collectiveF, collectiveP, 1), {color: '#000', width: 8}, 7));
series.push(lineSeries(pinkSpec, 'collective fine', logPairs(collectiveFineF, collectiveFineP, 1), {color: '#000', width: 8}, 7));
series.push(lineSeries(pinkSpec, 'fit', logPairs(fitF, fitP, 1), {color: '#000', width: 8, type: scaled([44, 22, 10, 22], sf)}, 8));
series.push(lineSeries(pinkSpec, 'level', logPairs(levelF, levelP, 1), {color: '#FF0A28', width: 8, type: scaled([41, 19, 8, 19], sx)}, 8));
series.push(lineSeries(quietTrace, 'quiet', pairs(quietT, quietV), {color: '#000', width: 6}));
series.push(lineSeries(burstTrace, 'burst', pairs(burstT, burstV), {color: '#000', width: 7}));
series.push(lineSeries(regularTrace, 'regular', pairs(regularT, regularV), {color: '#000', width: 7}));

// free texts keep the figure's proportions: font height follows sy, text width follows the page
function label(text, x, y, size, opt) {
  opt = opt || {};
  var along = opt.along || 1;
  return {
    type: 'text', x: x * sx, y: y * sy, z: 20, silent: true,
    rotation: opt.vertical ? Math.PI / 2 : 0,
    scaleX: opt.vertical ? along : along * sx / sy,
    scaleY: opt.vertical ? sx / sy : 1,
    style: {text: text, x: 0, y: 0, align: 'center', verticalAlign: 'middle', fill: '#000',
      font: (opt.bold ? 'bold ' : '') + (size * sy) + 'px "' + FONT + '"', rich: opt.rich}
  };
}
function italicRich(size) {
  return {t: {fontSize: size * sy, fontFamily: FONT, color: '#000'}, i: {fontSize: size * sy, fontFamily: FONT, fontStyle: 'italic', color: '#000'}};
}

var chart = echarts.init(mainEl);
chart.setOption({
  backgroundColor: '#fff', animation: false,
  grid: grids, xAxis: xAxes, yAxis: yAxes, series: series,
  legend: {
    data: [{name: 'Single', icon: 'path://M0 0H100V2.4H0Z'}, {name: 'Collective', icon: 'path://M0 0H100V7.6H0Z'}],
    orient: 'vertical', left: 3097 * sx, top: 2972 * sy, itemWidth: 105 * sx, itemHeight: 14 * sy, itemGap: 16 * sy,
    selectedMode: false, textStyle: {fontSize: 47 * sf, fontFamily: FONT, color: '#111'}, z: 9
  },
  graphic: {elements: [
    {type: 'rect', z: 0, silent: true, shape: {x: 1369 * sx, y: 2877 * sy, width: 1085 * sx, height: 1764 * sy}, style: {fill: GREEN}},
    {type: 'rect', z: 0, silent: true, shape: {x: 2454 * sx, y: 2877 * sy, width: 1085 * sx, height: 1764 * sy}, style: {fill: PINK}},
    label('NoiseLevel', 53, 1244, 150, {vertical: true}),
    label('(a)', 1853, 2717, 126),
    label('(b)', 1906, 4745, 123, {bold: true}),
    label('Power', 120, 3186, 134, {vertical: true}),
    label('Spectrum', 289, 3208, 134, {vertical: true, along: 1.26}),
    label('Membrane', 127, 4077, 130, {vertical: true}),
    label('{t|Potential (}{i|mV}{t|)}', 292, 4091, 128, {vertical: true, rich: italicRich(128)}),
    label('{t|Frequency (}{i|kHz}{t|)}', 1920, 3684, 132, {rich: italicRich(132)}),
    label('{t|Time (}{i|ms}{t|)}', 1959, 4540, 131, {rich: italicRich(131)})
  ]}
});
</script>
</body>
</html>
